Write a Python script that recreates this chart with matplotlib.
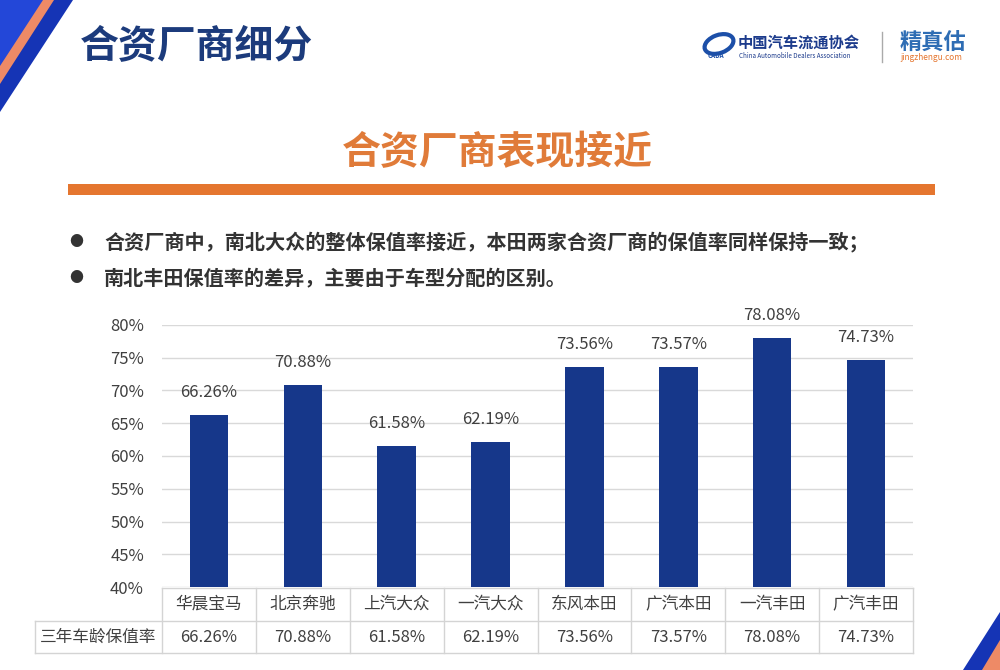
import matplotlib.pyplot as plt
from matplotlib.patches import Polygon, Rectangle, Ellipse

plt.rcParams['font.family'] = ['Noto Sans CJK SC', 'DejaVu Sans']

# data
brands = ['华晨宝马', '北京奔驰', '上汽大众', '一汽大众', '东风本田', '广汽本田', '一汽丰田', '广汽丰田']
retention = [66.26, 70.88, 61.58, 62.19, 73.56, 73.57, 78.08, 74.73]
yticks = [40, 45, 50, 55, 60, 65, 70, 75, 80]
row_label = '三年车龄保值率'

W, H = 1000, 670
fig = plt.figure(figsize=(10, 6.7), dpi=100)
fig.patch.set_facecolor('white')

# full-figure overlay axes in pixel coords (y down)
bg = fig.add_axes([0, 0, 1, 1])
bg.set_xlim(0, W)
bg.set_ylim(H, 0)
bg.axis('off')

# corner stripes
bg.add_patch(Polygon([(0, 0), (73, 0), (0, 112)], closed=True, color='#1534B5', lw=0))
bg.add_patch(Polygon([(0, 0), (54, 0), (0, 84)], closed=True, color='#EE8A66', lw=0))
bg.add_patch(Polygon([(0, 0), (43, 0), (0, 66)], closed=True, color='#2347D8', lw=0))
bg.add_patch(Polygon([(1000, 612), (1000, 670), (963, 670)], closed=True, color='#1534B5', lw=0))
bg.add_patch(Polygon([(1000, 640), (1000, 670), (982, 670)], closed=True, color='#EE8A66', lw=0))

# headings
bg.text(80, 46, '合资厂商细分', fontsize=28, fontweight='bold', color='#1C3B7C',
        ha='left', va='center')
bg.text(497, 153, '合资厂商表现接近', fontsize=28, fontweight='bold', color='#E07B39',
        ha='center', va='center')
bg.add_patch(Rectangle((68, 184), 867, 11, color='#E5762F', lw=0))

# bullets
bullets = ['合资厂商中，南北大众的整体保值率接近，本田两家合资厂商的保值率同样保持一致；',
           '南北丰田保值率的差异，主要由于车型分配的区别。']
for i, t in enumerate(bullets):
    yy = 242 + i * 36
    bg.text(76, yy, '●', fontsize=10, color='#333333', ha='center', va='center')
    bg.text(104, yy, t, fontsize=14.5, fontweight='bold', color='#333333', ha='left', va='center')

# logos
bg.add_patch(Ellipse((719, 44), 30, 18, angle=-20, fill=False, ec='#1C4FA8', lw=3))
bg.text(716, 56, 'CADA', fontsize=4.5, color='#1C4FA8', fontweight='bold', style='italic',
        ha='center', va='center')
bg.text(738, 43, '中国汽车流通协会', fontsize=11, fontweight='bold', color='#1C3B8C',
        ha='left', va='center')
bg.text(739, 56, 'China Automobile Dealers Association', fontsize=4.5, color='#1C3B8C',
        ha='left', va='center')
bg.plot([882, 882], [32, 62], color='#AAAAAA', lw=1)
bg.text(900, 42, '精真估', fontsize=16, fontweight='bold', color='#2E6DB4',
        ha='left', va='center')
bg.text(900, 58, 'jingzhengu.com', fontsize=6, color='#E5762F', ha='left', va='center')

# bar chart
x0, x1, ytop, ybot = 162, 913, 325, 587
ax = fig.add_axes([x0 / W, 1 - ybot / H, (x1 - x0) / W, (ybot - ytop) / H])
ax.set_facecolor('none')
xs = list(range(len(brands)))
ax.bar(xs, [v - 40 for v in retention], bottom=40, width=0.41, color='#16378A', zorder=3)
for x, v in zip(xs, retention):
    ax.text(x, v + 3.4, f'{v:.2f}%', ha='center', va='center', fontsize=12, color='#404040')
ax.set_xlim(-0.5, len(brands) - 0.5)
ax.set_ylim(40, 80)
ax.set_yticks(yticks)
ax.set_yticklabels([f'{t}%' for t in yticks], fontsize=12, color='#404040')
ax.tick_params(axis='y', length=0, pad=13)
ax.set_xticks([])
ax.grid(axis='y', color='#D9D9D9', lw=1, zorder=0)
for s in ax.spines.values():
    s.set_visible(False)

# data table under the chart
t_left, r0, r1, r2 = 35, 588, 621, 653
tab = fig.add_axes([0, 0, 1, 1])
tab.set_xlim(0, W)
tab.set_ylim(H, 0)
tab.axis('off')
colw = (x1 - x0) / len(brands)
lc = '#D4D4D4'
tab.plot([x0, x1], [r0, r0], color=lc, lw=1)
tab.plot([t_left, x1], [r1, r1], color=lc, lw=1)
tab.plot([t_left, x1], [r2, r2], color=lc, lw=1)
tab.plot([t_left, t_left], [r1, r2], color=lc, lw=1)
for k in range(len(brands) + 1):
    xx = x0 + k * colw
    tab.plot([xx, xx], [r0, r2], color=lc, lw=1)
for k, (b, v) in enumerate(zip(brands, retention)):
    cx = x0 + (k + 0.5) * colw
    tab.text(cx, (r0 + r1) / 2, b, ha='center', va='center', fontsize=12, color='#404040')
    tab.text(cx, (r1 + r2) / 2, f'{v:.2f}%', ha='center', va='center', fontsize=12, color='#404040')
tab.text((t_left + x0) / 2, (r1 + r2) / 2, row_label, ha='center', va='center',
         fontsize=12, color='#404040')

fig.savefig('out.png', dpi=100)
